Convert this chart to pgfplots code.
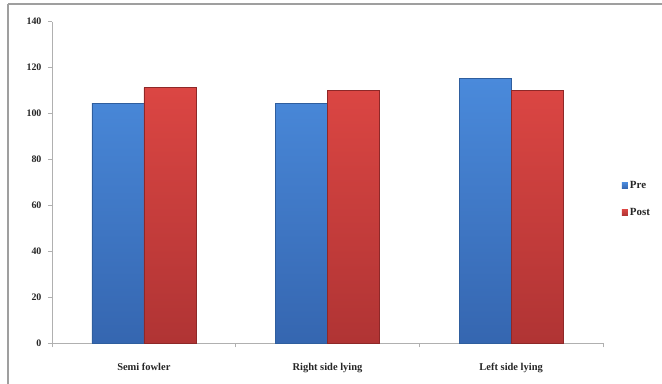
\documentclass[border=0pt]{standalone}
\usepackage{fontspec}
\setmainfont{Liberation Serif}
\usepackage{pgfplots}
\pgfplotsset{compat=1.18}
\definecolor{blueTop}{HTML}{4A8ADB}
\definecolor{blueBot}{HTML}{3566B0}
\definecolor{blueEdge}{HTML}{2F5E9E}
\definecolor{redTop}{HTML}{DB4643}
\definecolor{redBot}{HTML}{B03434}
\definecolor{redEdge}{HTML}{8E2828}
\definecolor{axgray}{HTML}{B0B0B0}
\begin{document}
\begin{tikzpicture}
\useasboundingbox (0,0) rectangle (662bp,384bp);
\draw[line width=1.6bp, color=gray!75] (8bp,380bp) -- (662bp,380bp);
\draw[line width=1.6bp, color=gray!75] (8bp,380bp) -- (8bp,0bp);
\begin{axis}[
  at={(52bp,40.7bp)}, anchor=south west,
  scale only axis, width=551bp, height=321.6bp,
  xmin=-0.5, xmax=2.5, ymin=0, ymax=140,
  ybar=0pt, bar width=52bp,
  axis lines=left, axis line style={draw=axgray, line width=0.8bp, -},
  xtick={0,1,2},
  xticklabels={Semi fowler, Right side lying, Left side lying},
  minor xtick={-0.5,0.5,1.5,2.5},
  ytick={0,20,...,140},
  tick align=outside,
  major tick length=4bp, minor tick length=4bp,
  x tick style={draw=none},
  minor x tick style={draw=axgray, line width=0.8bp},
  y tick style={draw=axgray, line width=0.8bp},
  tick label style={font=\fontsize{10}{12}\selectfont\bfseries, text=black!85},
  /pgf/number format/assume math mode=true,
  xticklabel style={yshift=-12bp, font=\fontsize{10.5}{12}\selectfont\bfseries},
  yticklabel style={xshift=-3bp},
  legend style={at={(1.034,0.449)}, anchor=west, draw=none, fill=none,
    font=\fontsize{11}{13}\selectfont\bfseries, row sep=14bp, inner sep=0pt,
    text=black!85},
  legend cell align=left,
  legend image code/.code={\draw[#1, draw=none] (0bp,-3bp) rectangle (6bp,3bp);},
]
\addplot[shade, top color=blueTop, bottom color=blueBot, draw=blueEdge, line width=0.4bp]
  coordinates {(0,104.5) (1,104.5) (2,115.4)};
\addplot[shade, top color=redTop, bottom color=redBot, draw=redEdge, line width=0.4bp]
  coordinates {(0,111.3) (1,110.0) (2,110.0)};
\legend{Pre, Post}
\end{axis}
\end{tikzpicture}
\end{document}
